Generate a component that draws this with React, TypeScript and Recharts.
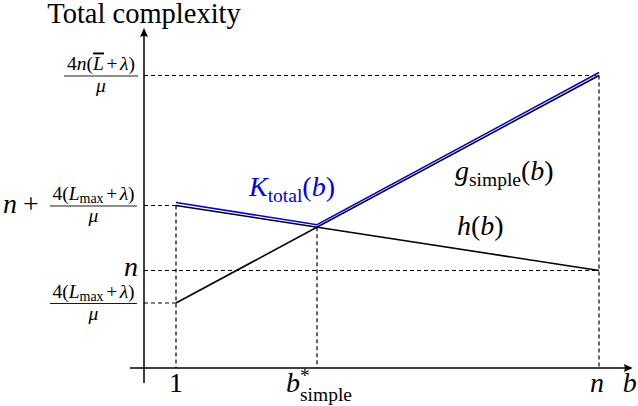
import React from "react";
import {
  ComposedChart,
  Line,
  XAxis,
  YAxis,
  ReferenceLine,
  ReferenceDot,
} from "recharts";

// b positions: 1, b*_simple, n
const bTicks = [1, 4, 10];
const bSimple = 4;
const bN = 10;

// complexity levels: 4(Lmax+λ)/μ, n, n+4(Lmax+λ)/μ, 4n(L̄+λ)/μ
const levelLow = 10;
const levelN = 15;
const levelHigh = 25;
const levelTop = 45;
const yTicks = [levelLow, levelN, levelHigh, levelTop];

// series
const gSimple = [
  { b: 1, y: 10 },
  { b: 10, y: 45 },
];
const hValues = [
  { b: 1, y: 25 },
  { b: 10, y: 15 },
];
// K_total drawn a hair above the black lines
const kTotal = [
  { b: 1, y: 25.45 },
  { b: 4, y: 22.05 },
  { b: 10, y: 45.45 },
];
const bStar = 21.67;

const X_MIN = -2.745;
const X_MAX = 10.83;
const Y_MIN = -5.846;
const Y_MAX = 56.615;

const AXIS_B = 0.319;
const AXIS_X_START = 0.021;
const AXIS_X_END = 10.72;
const AXIS_Y_START = -2.31;
const AXIS_Y_END = 52.3;

const dash = "4 3";
const BIG = 28;
const SMALL = 19.5;

const css = `
#root .mathfig svg text, #root .mathfig svg tspan { font-family: serif !important; }
`;

// force the serif face on every text node
const serifRef = (el: any) => {
  if (el) el.style.setProperty("font-family", "serif", "important");
};

const T = (props: any) => <text ref={serifRef} fill="#000" fontFamily="serif" {...props} />;

const Frac = ({ cx, y, x1, x2, num }: any) => (
  <g>
    <T x={cx} y={y - 5} textAnchor="middle" fontSize={SMALL}>
      {num}
    </T>
    <line x1={x1} x2={x2} y1={y + 0.5} y2={y + 0.5} stroke="#000" strokeWidth={0.9} />
    <T x={cx} y={y + 17} textAnchor="middle" fontSize={SMALL} fontStyle="italic">
      μ
    </T>
  </g>
);

const lmaxNum = (
  <>
    <tspan>4(</tspan>
    <tspan fontStyle="italic">L</tspan>
    <tspan fontSize={14} dy={3}>max</tspan>
    <tspan dy={-3} dx={2.5}>+</tspan>
    <tspan fontStyle="italic" dx={2.5}>λ</tspan>
    <tspan>)</tspan>
  </>
);

const topNum = (
  <>
    <tspan>4</tspan>
    <tspan fontStyle="italic">n</tspan>
    <tspan>(</tspan>
    <tspan fontStyle="italic" style={{ textDecoration: "overline" }}>L</tspan>
    <tspan dx={2.5}>+</tspan>
    <tspan fontStyle="italic" dx={2.5}>λ</tspan>
    <tspan>)</tspan>
  </>
);

// y tick labels, placed on the y axis through the chart's scale
const YTick = ({ cy, value }: any) => {
  const y = cy;
  if (value === levelTop) return <Frac cx={101} y={y} x1={64} x2={138} num={topNum} />;
  if (value === levelHigh)
    return (
      <g>
        <T x={3} y={y + 8} fontSize={BIG}>
          <tspan fontStyle="italic">n</tspan>
          <tspan dx={6}>+</tspan>
        </T>
        <Frac cx={93.5} y={y} x1={50} x2={137} num={lmaxNum} />
      </g>
    );
  if (value === levelN)
    return (
      <T x={138} y={y + 6} textAnchor="end" fontSize={BIG} fontStyle="italic">
        n
      </T>
    );
  return <Frac cx={93.5} y={y} x1={50} x2={137} num={lmaxNum} />;
};

// x tick labels, placed under the x axis through the chart's scale
const XTick = ({ cx, cy, value }: any) => {
  const x = cx;
  const base = cy + 24;
  if (value === 1)
    return (
      <T x={x} y={base} textAnchor="middle" fontSize={BIG}>
        1
      </T>
    );
  if (value === bSimple)
    return (
      <g>
        <T x={x - 31} y={base} fontSize={BIG} fontStyle="italic">b</T>
        <T x={x - 17} y={base - 10} fontSize={SMALL}>*</T>
        <T x={x - 17} y={base + 9} fontSize={SMALL}>simple</T>
      </g>
    );
  return (
    <T x={x - 2} y={base} textAnchor="middle" fontSize={BIG} fontStyle="italic">
      n
    </T>
  );
};

const ArrowRight = ({ cx, cy }: any) => (
  <g>
    <path d={`M${cx},${cy} L${cx - 9},${cy - 4} Q${cx - 7},${cy} ${cx - 9},${cy + 4} Z`} fill="#000" />
    <T x={cx - 10} y={cy + 24} fontSize={BIG} fontStyle="italic">
      b
    </T>
  </g>
);

const ArrowUp = ({ cx, cy }: any) => (
  <g>
    <path d={`M${cx},${cy} L${cx - 4},${cy + 9} Q${cx},${cy + 7} ${cx + 4},${cy + 9} Z`} fill="#000" />
    <T x={cx} y={cy - 5} textAnchor="middle" fontSize={28.5}>
      Total complexity
    </T>
  </g>
);

const KLabel = ({ cx, cy }: any) => (
  <T x={cx - 68} y={cy - 31} fontSize={BIG} fill="#0000ee">
    <tspan fontStyle="italic">K</tspan>
    <tspan fontSize={SMALL} dy={6}>total</tspan>
    <tspan dy={-6}>(</tspan>
    <tspan fontStyle="italic">b</tspan>
    <tspan>)</tspan>
  </T>
);

const GLabel = ({ cx, cy }: any) => (
  <T x={cx - 144} y={cy + 105} fontSize={BIG}>
    <tspan fontStyle="italic">g</tspan>
    <tspan fontSize={SMALL} dy={6}>simple</tspan>
    <tspan dy={-6}>(</tspan>
    <tspan fontStyle="italic">b</tspan>
    <tspan>)</tspan>
  </T>
);

const HLabel = ({ cx, cy }: any) => (
  <T x={cx - 142} y={cy - 35} fontSize={BIG}>
    <tspan fontStyle="italic">h</tspan>
    <tspan>(</tspan>
    <tspan fontStyle="italic">b</tspan>
    <tspan>)</tspan>
  </T>
);

export default function App() {
  const dashed = { stroke: "#000", strokeWidth: 1.2, strokeDasharray: dash, ifOverflow: "visible" as const };
  return (
    <div className="mathfig" style={{ position: "absolute", left: 0, top: 0, background: "#fff", fontFamily: "serif" }}>
      <style>{css}</style>
      <ComposedChart width={638} height={406} margin={{ top: 0, right: 0, bottom: 0, left: 0 }} style={{ fontFamily: "serif" }}>
        <XAxis type="number" dataKey="b" domain={[X_MIN, X_MAX]} allowDataOverflow hide />
        <YAxis type="number" domain={[Y_MIN, Y_MAX]} allowDataOverflow hide />

        {/* dashed guides */}
        <ReferenceLine segment={[{ x: AXIS_B, y: levelTop }, { x: bN, y: levelTop }]} {...dashed} />
        <ReferenceLine segment={[{ x: AXIS_B, y: levelHigh }, { x: 1, y: levelHigh }]} {...dashed} />
        <ReferenceLine segment={[{ x: AXIS_B, y: levelN }, { x: bN, y: levelN }]} {...dashed} />
        <ReferenceLine segment={[{ x: AXIS_B, y: levelLow }, { x: 1, y: levelLow }]} {...dashed} />
        <ReferenceLine segment={[{ x: 1, y: levelHigh }, { x: 1, y: 0 }]} {...dashed} />
        <ReferenceLine segment={[{ x: bSimple, y: bStar }, { x: bSimple, y: 0 }]} {...dashed} />
        <ReferenceLine segment={[{ x: bN, y: levelTop }, { x: bN, y: 0 }]} {...dashed} />

        {/* axes */}
        <ReferenceLine
          segment={[{ x: AXIS_X_START, y: 0 }, { x: AXIS_X_END - 0.12, y: 0 }]}
          stroke="#000"
          strokeWidth={1.5}
          ifOverflow="visible"
        />
        <ReferenceLine
          segment={[{ x: AXIS_B, y: AXIS_Y_START }, { x: AXIS_B, y: AXIS_Y_END - 0.8 }]}
          stroke="#000"
          strokeWidth={1.5}
          ifOverflow="visible"
        />
        <ReferenceDot x={AXIS_X_END} y={0} r={0} shape={<ArrowRight />} ifOverflow="visible" />
        <ReferenceDot x={AXIS_B} y={AXIS_Y_END} r={0} shape={<ArrowUp />} ifOverflow="visible" />

        {bTicks.map((t) => (
          <ReferenceDot key={`bt${t}`} x={t} y={0} r={0} shape={<XTick value={t} />} ifOverflow="visible" />
        ))}
        {yTicks.map((t) => (
          <ReferenceDot key={`yt${t}`} x={AXIS_B} y={t} r={0} shape={<YTick value={t} />} ifOverflow="visible" />
        ))}

        <Line data={gSimple} dataKey="y" type="linear" stroke="#000" strokeWidth={1.6} dot={false} activeDot={false} isAnimationActive={false} />
        <Line data={hValues} dataKey="y" type="linear" stroke="#000" strokeWidth={1.6} dot={false} activeDot={false} isAnimationActive={false} />
        <Line data={kTotal} dataKey="y" type="linear" stroke="#0000ee" strokeWidth={1.6} dot={false} activeDot={false} isAnimationActive={false} />

        <ReferenceDot x={bSimple} y={bStar} r={0} shape={<KLabel />} ifOverflow="visible" />
        <ReferenceDot x={bN} y={levelTop} r={0} shape={<GLabel />} ifOverflow="visible" />
        <ReferenceDot x={bN} y={levelN} r={0} shape={<HLabel />} ifOverflow="visible" />
      </ComposedChart>
    </div>
  );
}
